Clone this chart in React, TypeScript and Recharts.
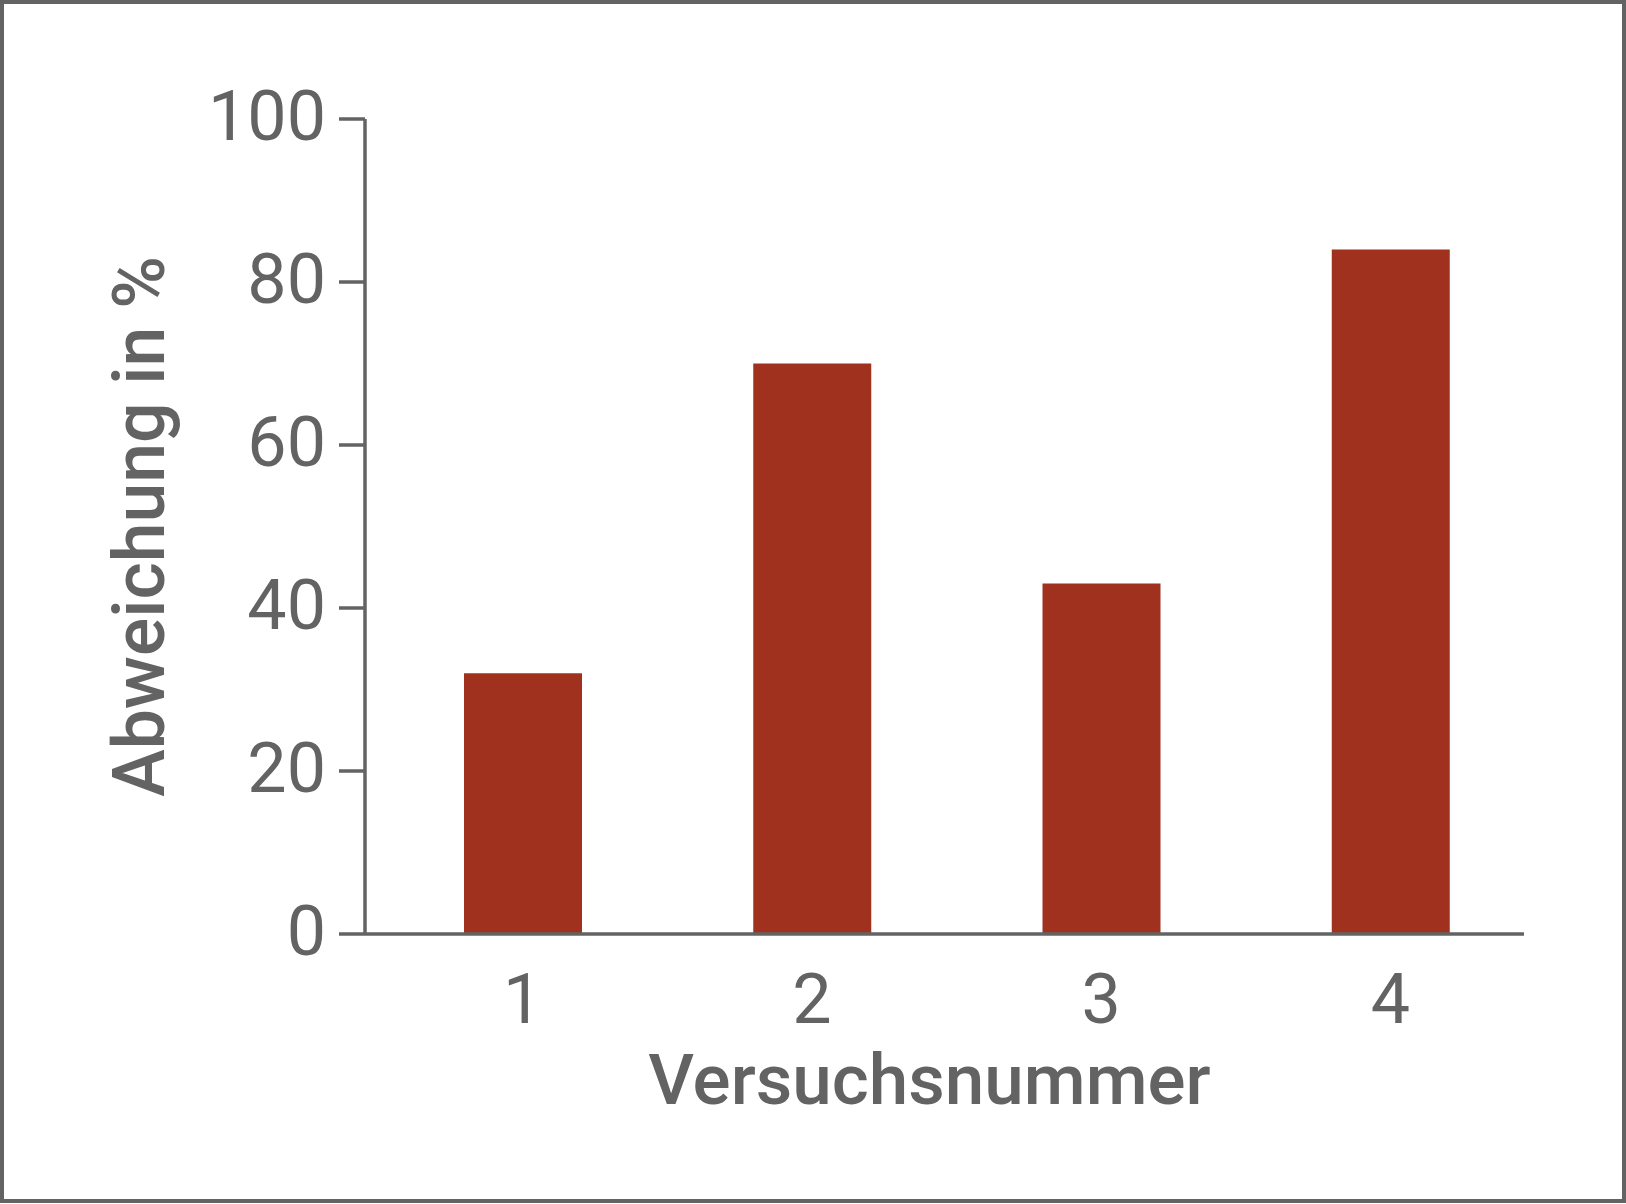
import React from "react";
import { BarChart, Bar, XAxis, YAxis } from "recharts";

const categories = ["1", "2", "3", "4"];
const deviation = [32, 70, 43, 84];
const yTicks = [0, 20, 40, 60, 80, 100];

const xTitle = "Versuchsnummer";
const yTitle = "Abweichung in %";

const data = categories.map((c, i) => ({ name: c, value: deviation[i] }));

const GREY = "#636363";
const BAR = "#A0311F";
const FONT = "Roboto, 'Noto Sans', sans-serif";

const XTitle = (props: any) => {
  const vb = props.viewBox || {};
  return (
    <text
      x={vb.x + vb.width / 2 - 15}
      y={vb.y + 170}
      textAnchor="middle"
      fill={GREY}
      fontFamily={FONT}
      fontSize={71}
      fontWeight={500}
    >
      {xTitle}
    </text>
  );
};

const YTitle = (props: any) => {
  const vb = props.viewBox || {};
  const cx = vb.x + 164;
  const cy = vb.y + vb.height / 2;
  return (
    <text
      x={cx}
      y={cy}
      transform={`rotate(-90, ${cx}, ${cy})`}
      textAnchor="middle"
      fill={GREY}
      fontFamily={FONT}
      fontSize={71.5}
      fontWeight={500}
    >
      {yTitle}
    </text>
  );
};

export default function App() {
  return (
    <div
      style={{
        position: "absolute",
        left: 0,
        top: 0,
        width: 1626,
        height: 1204,
        background: "#fff",
      }}
    >
      <div
        style={{
          position: "absolute",
          left: 0,
          top: 0,
          width: 1626,
          height: 1203,
          boxSizing: "border-box",
          border: `4px solid ${GREY}`,
        }}
      />
      <div style={{ position: "absolute", left: 0, top: 0 }}>
        <BarChart
          width={1626}
          height={1204}
          data={data}
          margin={{ top: 119, right: 102, bottom: 0, left: 0 }}
        >
          <XAxis
            dataKey="name"
            height={270}
            axisLine={{ stroke: GREY, strokeWidth: 3.5 }}
            tickLine={false}
            tickSize={0}
            tickMargin={39}
            padding={{ left: 13, right: -11 }}
            tick={{ fill: GREY, fontSize: 70, fontFamily: FONT }}
            label={<XTitle />}
          />
          <YAxis
            width={365}
            domain={[0, 100]}
            ticks={yTicks}
            interval={0}
            axisLine={{ stroke: GREY, strokeWidth: 3.5 }}
            tickLine={{ stroke: GREY, strokeWidth: 3.5 }}
            tickSize={26}
            tickMargin={13}
            tick={{ fill: GREY, fontSize: 70, fontFamily: FONT, dy: -4 }}
            label={<YTitle />}
          />
          <Bar dataKey="value" fill={BAR} barSize={118} isAnimationActive={false} />
        </BarChart>
      </div>
    </div>
  );
}
